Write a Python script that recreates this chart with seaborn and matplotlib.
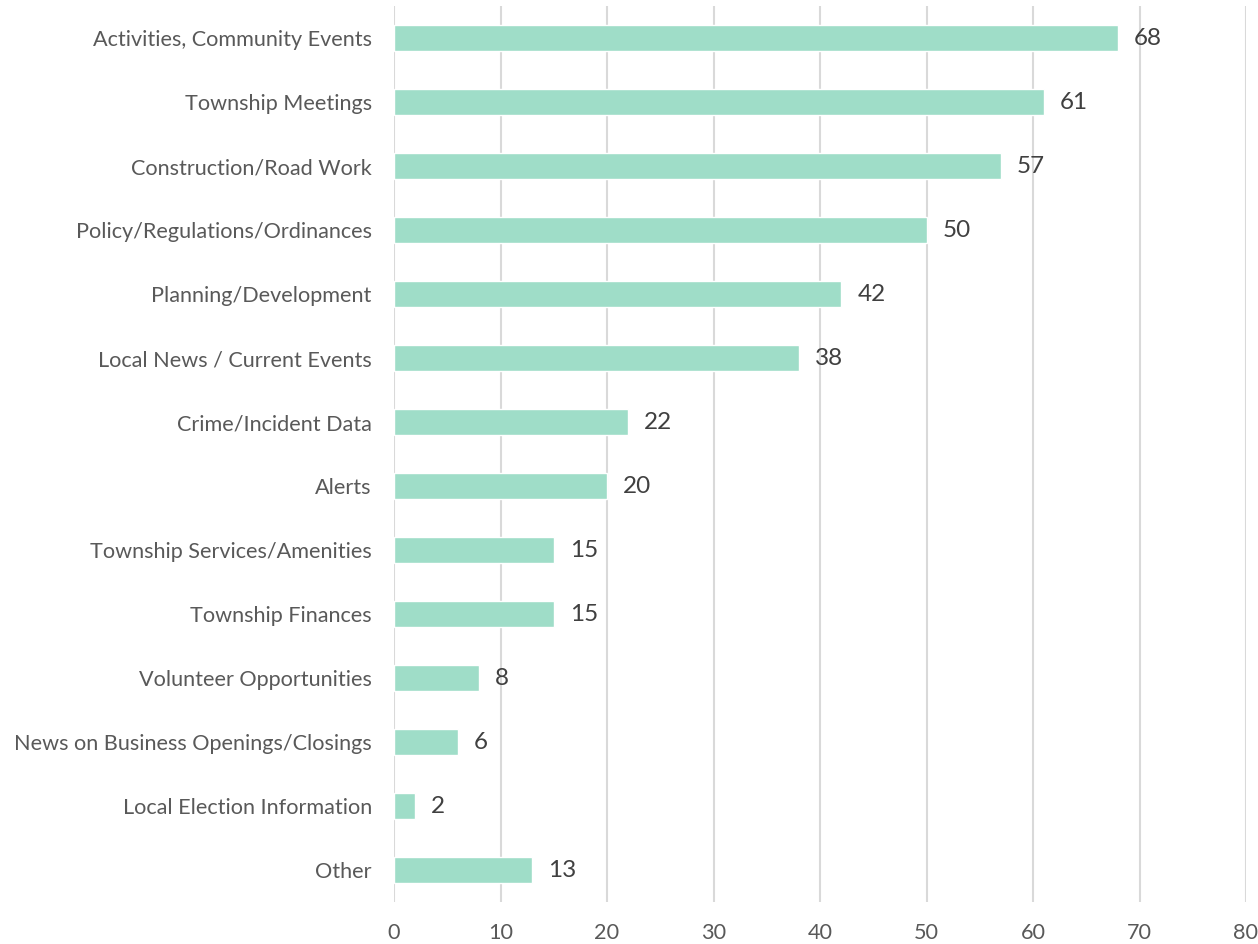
import matplotlib
matplotlib.use('Agg')
import matplotlib.pyplot as plt
import seaborn as sns
import pandas as pd

categories = ['Activities, Community Events', 'Township Meetings', 'Construction/Road Work',
              'Policy/Regulations/Ordinances', 'Planning/Development', 'Local News / Current Events',
              'Crime/Incident Data', 'Alerts', 'Township Services/Amenities', 'Township Finances',
              'Volunteer Opportunities', 'News on Business Openings/Closings',
              'Local Election Information', 'Other']
counts = [68, 61, 57, 50, 42, 38, 22, 20, 15, 15, 8, 6, 2, 13]
x_ticks = [0, 10, 20, 30, 40, 50, 60, 70, 80]

sns.set_theme(style='white')
plt.rcParams['font.family'] = ['Lato', 'DejaVu Sans']

df = pd.DataFrame({'topic': categories, 'count': counts})

fig = plt.figure(figsize=(12.58, 9.44), dpi=100)
ax = fig.add_axes([394 / 1258, 1 - 902 / 944, (1246 - 394) / 1258, 896 / 944])

sns.barplot(data=df, x='count', y='topic', color='#9fddc8', saturation=1, width=0.4, ax=ax, zorder=3)

ax.set_xlim(0, 80)
ax.set_ylim(len(categories) - 0.5, -0.5)
ax.set_xticks(x_ticks)
ax.xaxis.grid(True, color='#d9d9d9', linewidth=1.5, zorder=0)
ax.yaxis.grid(False)
for s in ax.spines.values():
    s.set_visible(False)
ax.set_xlabel('')
ax.set_ylabel('')
ax.tick_params(axis='both', length=0, labelsize=15.6, labelcolor='#595959')
ax.tick_params(axis='x', pad=15)
ax.tick_params(axis='y', pad=16)

for i, v in enumerate(counts):
    ax.text(v + 1.5, i, str(v), va='center', ha='left', fontsize=17.5, color='#404040')

fig.savefig('out.png', dpi=100)
